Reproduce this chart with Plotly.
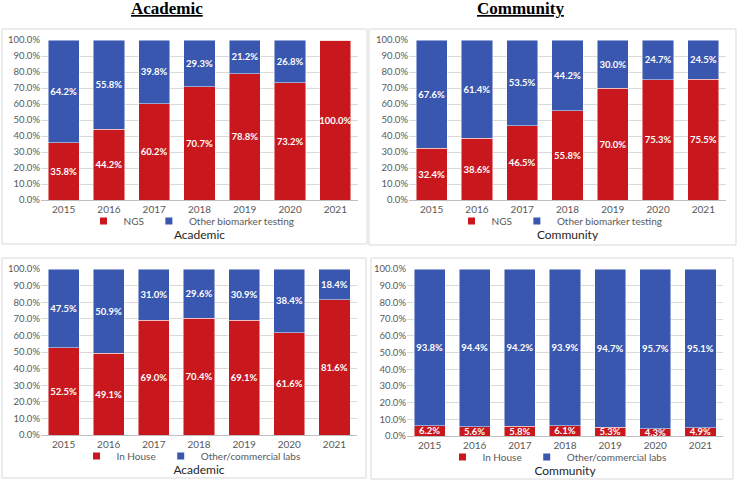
import plotly.graph_objects as go

years = ["2015", "2016", "2017", "2018", "2019", "2020", "2021"]

# Top panels: NGS vs other biomarker testing
acad_ngs = [35.8, 44.2, 60.2, 70.7, 78.8, 73.2, 100.0]
acad_other = [64.2, 55.8, 39.8, 29.3, 21.2, 26.8, 0.0]
comm_ngs = [32.4, 38.6, 46.5, 55.8, 70.0, 75.3, 75.5]
comm_other = [67.6, 61.4, 53.5, 44.2, 30.0, 24.7, 24.5]

# Bottom panels: in house vs other/commercial labs
acad_inhouse = [52.5, 49.1, 69.0, 70.4, 69.1, 61.6, 81.6]
acad_commercial = [47.5, 50.9, 31.0, 29.6, 30.9, 38.4, 18.4]
comm_inhouse = [6.2, 5.6, 5.8, 6.1, 5.3, 4.3, 4.9]
comm_commercial = [93.8, 94.4, 94.2, 93.9, 94.7, 95.7, 95.1]

panel_titles = ["Academic", "Community"]
series_names_top = ["NGS", "Other biomarker testing"]
series_names_bottom = ["In House", "Other/commercial labs"]

RED = "#C8181E"
BLUE = "#3A57B0"
FONT = "Lato, Open Sans, sans-serif"
W, H = 738, 481

def px_x(v):
    return v / W

def px_y(v):
    return 1 - v / H

fig = go.Figure()

panels = [
    (acad_ngs, acad_other, series_names_top, "", "legend", (41, 358), (40, 200), "Academic"),
    (comm_ngs, comm_other, series_names_top, "2", "legend2", (409, 726), (40, 200), "Community"),
    (acad_inhouse, acad_commercial, series_names_bottom, "3", "legend3", (41, 357), (269, 435), "Academic"),
    (comm_inhouse, comm_commercial, series_names_bottom, "4", "legend4", (407, 723), (269, 436), "Community"),
]

def labels(vals):
    return [f"{v:.1f}%" if v > 0 else "" for v in vals]

for red, blue, names, ax, lg, xd, yd, title in panels:
    for vals, color, name in ((red, RED, names[0]), (blue, BLUE, names[1])):
        fig.add_trace(go.Bar(
            x=years, y=vals, name=name, showlegend=False,
            marker=dict(color=color, line=dict(color="rgba(255,255,255,0.6)", width=0.8)),
            text=labels(vals), textposition="inside", insidetextanchor="middle",
            textangle=0, constraintext="none",
            textfont=dict(color="white", size=9.5, family=FONT, weight="bold"),
            xaxis="x" + ax, yaxis="y" + ax,
            hovertemplate="%{x}: %{y:.1f}%<extra>" + name + "</extra>",
        ))
    # legend entries (small square swatches like the original)
    for color, name in ((RED, names[0]), (BLUE, names[1])):
        fig.add_trace(go.Scatter(
            x=[None], y=[None], mode="markers", name=name,
            marker=dict(symbol="square", size=7, color=color),
            xaxis="x" + ax, yaxis="y" + ax, legend=lg, showlegend=True,
        ))
    xa = "xaxis" + ax
    ya = "yaxis" + ax
    fig.layout[xa] = dict(
        domain=[px_x(xd[0]), px_x(xd[1])], anchor="y" + ax, automargin=False,
        showgrid=False, showline=True, linecolor="#BFBFBF", linewidth=1,
        ticks="", tickfont=dict(size=10, color="#595959", family=FONT),
        title=dict(text=title, font=dict(size=12, color="#262626", family=FONT), standoff=16),
        range=[-0.5, 6.5], type="category",
    )
    fig.layout[ya] = dict(
        domain=[px_y(yd[1]), px_y(yd[0])], anchor="x" + ax, automargin=False,
        range=[0, 100], dtick=10, tickformat=".1f", ticksuffix="%",
        showgrid=True, gridcolor="#D9D9D9", gridwidth=1, zeroline=False,
        showline=False, ticks="", ticklen=0,
        tickfont=dict(size=9.5, color="#595959", family=FONT),
    )
    cx = (xd[0] + xd[1]) / 2
    fig.layout[lg] = dict(
        orientation="h", x=px_x(cx - 8), xanchor="center",
        y=px_y(yd[1] + 21), yanchor="middle", xref="paper", yref="paper",
        font=dict(size=10, color="#595959", family=FONT),
        bgcolor="rgba(0,0,0,0)", itemwidth=30, traceorder="normal",
        itemclick=False, itemdoubleclick=False,
    )

# Panel borders
boxes = [(2, 29, 367, 244), (369, 29, 736, 245), (2, 258, 366, 478), (371, 258, 733, 479)]
shapes = []
for x0, y0, x1, y1 in boxes:
    shapes.append(dict(type="rect", xref="paper", yref="paper",
                       x0=px_x(x0), x1=px_x(x1), y0=px_y(y1), y1=px_y(y0),
                       line=dict(color="#D9D9D9", width=1), fillcolor="rgba(0,0,0,0)", layer="below"))

annotations = []
for title, cx in zip(panel_titles, (167, 520)):
    annotations.append(dict(
        text=f"<b><u>{title}</u></b>", x=px_x(cx), y=px_y(9), xref="paper", yref="paper",
        xanchor="center", yanchor="middle", showarrow=False,
        font=dict(size=17, color="black", family="Liberation Serif"),
    ))

fig.update_layout(
    barmode="stack", bargap=0.31,
    width=W, height=H, margin=dict(l=0, r=0, t=0, b=0, pad=0, autoexpand=False),
    paper_bgcolor="white", plot_bgcolor="white",
    shapes=shapes, annotations=annotations,
    showlegend=True,
)

fig.write_html(
    "out.html",
    config={"displayModeBar": False},
    post_script="document.body.style.margin='0';document.body.style.overflow='hidden';",
)
